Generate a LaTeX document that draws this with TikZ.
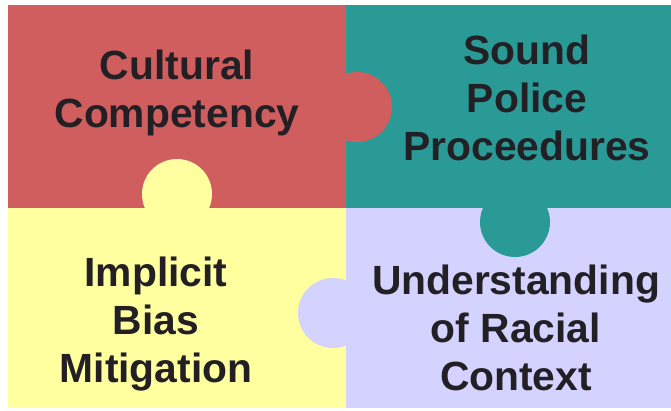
\documentclass[tikz,border=0pt]{standalone}
\usepackage{fontspec}
\setmainfont{Liberation Sans}
\definecolor{pzred}{RGB}{208,94,94}
\definecolor{pzteal}{RGB}{42,154,150}
\definecolor{pzyellow}{RGB}{255,255,160}
\definecolor{pzlav}{RGB}{212,210,255}
\definecolor{pztext}{RGB}{34,32,36}
\begin{document}
\begin{tikzpicture}[x=1pt,y=-1pt,
  label/.style={anchor=base,inner sep=0pt,align=center,text=pztext,
    font=\fontsize{40.8}{48}\selectfont\bfseries},
  tab/.style={circle,inner sep=0pt,minimum size=70pt}]
\useasboundingbox[fill=white] (0,0) rectangle (671,410);
% four puzzle pieces
\fill[pzred]    (8,5)   rectangle (346,208);
\fill[pzteal]   (346,5) rectangle (671,208);
\fill[pzyellow] (8,208) rectangle (346,408);
\fill[pzlav]    (346,208) rectangle (671,408);
% interlocking tabs
\node[tab,fill=pzred]    (tabA) at (357,107) {};
\node[tab,fill=pzyellow] (tabB) at (177,194) {};
\node[tab,fill=pzteal]   (tabC) at (515,222) {};
\node[tab,fill=pzlav]    (tabD) at (333,313) {};
% labels (anchored at the baseline of the last line)
\node[label] (cc) at (177,127) {Cultural\\Competency};
\node[label] (sp) at (527,160) {Sound\\Police\\Proceedures};
\node[label] (ib) at (156,382) {Implicit\\Bias\\Mitigation};
\node[label] (ur) at (516,390) {Understanding\\of Racial\\Context};
\end{tikzpicture}
\end{document}
